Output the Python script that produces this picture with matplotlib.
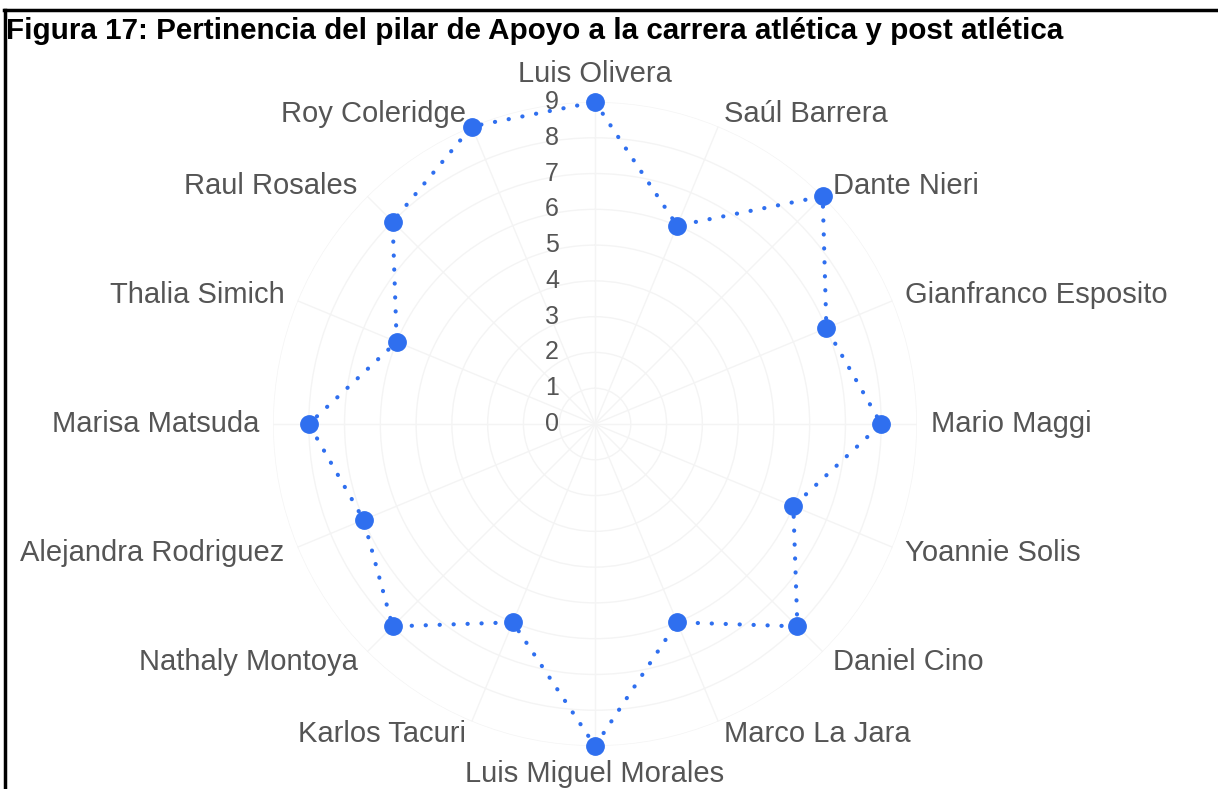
import numpy as np
import matplotlib
matplotlib.use("Agg")
import matplotlib.pyplot as plt
from matplotlib.lines import Line2D
from matplotlib.transforms import ScaledTranslation

plt.rcParams['font.family'] = ['Liberation Sans', 'DejaVu Sans']

title = "Figura 17: Pertinencia del pilar de Apoyo a la carrera atlética y post atlética"
athletes = [
    "Luis Olivera", "Saúl Barrera", "Dante Nieri", "Gianfranco Esposito",
    "Mario Maggi", "Yoannie Solis", "Daniel Cino", "Marco La Jara",
    "Luis Miguel Morales", "Karlos Tacuri", "Nathaly Montoya",
    "Alejandra Rodriguez", "Marisa Matsuda", "Thalia Simich",
    "Raul Rosales", "Roy Coleridge",
]
scores = [9, 6, 9, 7, 8, 6, 8, 6, 9, 6, 8, 7, 8, 6, 8, 9]
scale_ticks = list(range(0, 10))

W, H, DPI = 1218, 789, 100
fig = plt.figure(figsize=(W / DPI, H / DPI), dpi=DPI)

cx, cy, R = 595, 424, 322
ax = fig.add_axes([(cx - R) / W, (H - cy - R) / H, 2 * R / W, 2 * R / H],
                  projection='polar')
ax.set_theta_zero_location('N')
ax.set_theta_direction(-1)
ax.set_ylim(0, max(scale_ticks))
ax.spines['polar'].set_visible(False)
ax.set_facecolor('none')

n = len(athletes)
angles = np.arange(n) * 2 * np.pi / n

# very faint grid rings and spokes
ax.set_xticks(angles)
ax.set_xticklabels([])
ax.set_yticks(scale_ticks[1:])
ax.set_yticklabels([])
ax.grid(True, color='#f4f4f4', lw=1.0)
ax.tick_params(length=0)

# scale labels, set to the left of the vertical axis
off = ScaledTranslation(-43 / DPI, 0, fig.dpi_scale_trans)
for t in scale_ticks:
    ax.text(0, t, str(t), transform=ax.transData + off, ha='center',
            va='center', fontsize=18, color='#555555')

# data series
th = np.append(angles, angles[0])
vals = np.append(scores, scores[0])
blue = '#2f6fef'
ax.plot(th, vals, color=blue, lw=3.0, dashes=(0.05, 3.3),
        dash_capstyle='round', zorder=3, clip_on=False)
ax.plot(angles, scores, 'o', color=blue, ms=12.5, zorder=4, clip_on=False)

# athlete names around the chart
lab_r = 336 / R * max(scale_ticks)
for a, name in zip(angles, athletes):
    deg = np.degrees(a) % 360
    if np.isclose(deg, 0):
        ha, va = 'center', 'bottom'
    elif np.isclose(deg, 180):
        ha, va = 'center', 'top'
    elif deg < 180:
        ha, va = 'left', 'center'
    else:
        ha, va = 'right', 'center'
    ax.text(a, lab_r, name, ha=ha, va=va, fontsize=21, color='#555555',
            clip_on=False)

# title and frame
fig.text(6 / W, 1 - 31 / H, title, ha='left', va='center', fontsize=21.3,
         fontweight='bold', color='black')
fig.add_artist(Line2D([4 / W, 1], [1 - 10 / H, 1 - 10 / H], color='black',
                      lw=2.5, transform=fig.transFigure))
fig.add_artist(Line2D([5 / W, 5 / W], [0, 1 - 10 / H], color='black',
                      lw=2.5, transform=fig.transFigure))

fig.savefig('out.png', dpi=DPI)
